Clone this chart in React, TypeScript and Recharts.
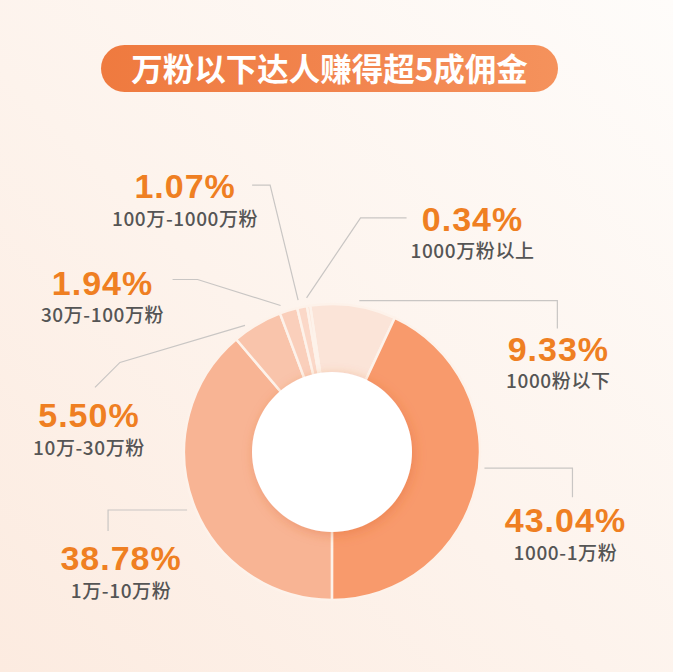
import { Cell, Pie, PieChart } from 'recharts';

const segments = ['1000粉以下', '1000-1万粉', '1万-10万粉', '10万-30万粉', '30万-100万粉', '100万-1000万粉', '1000万粉以上'];
const shares = [9.33, 43.04, 38.78, 5.5, 1.94, 1.07, 0.34];
const sliceColors = ['#fbe4d8', '#f89a6c', '#f8b494', '#f9c4ab', '#facfbb', '#fbd8c8', '#fce0d3'];

const title = '万粉以下达人赚得超5成佣金';

// leader line bends and text spots, relative to the outer point of each slice's middle
const labelLayout = [
  { pts: [[6, -5], [204, -5], [204, 23]], text: [205, 43] },
  { pts: [[8, -16], [96, -16], [96, 13]], text: [89, 36] },
  { pts: [[-6, 7], [-85, 7], [-85, 28]], text: [-72, 55] },
  { pts: [[-12, 1], [-137, 38], [-162, 63]], text: [-168, 91] },
  { pts: [[-8, -5], [-91, -31], [-116, -31]], text: [-186, -28] },
  { pts: [[-4, -7], [-32, -122], [-50, -122]], text: [-117, -121] },
  { pts: [[-2, -8], [52, -88], [98, -88]], text: [164, -87] },
];

const data = segments.map((name, i) => ({ name, value: shares[i] }));
const hub = [{ name: 'hub', value: 1 }];

const RAD = Math.PI / 180;

function renderLabel(props: any) {
  const { cx, cy, midAngle, outerRadius, index, value, name } = props;
  const lay = labelLayout[index];
  if (!lay) return null;
  const ax = cx + outerRadius * Math.cos(-midAngle * RAD);
  const ay = cy + outerRadius * Math.sin(-midAngle * RAD);
  const points = lay.pts.map(([dx, dy]) => `${ax + dx},${ay + dy}`).join(' ');
  const tx = ax + lay.text[0];
  const ty = ay + lay.text[1];
  return (
    <g key={`lbl-${index}`}>
      <polyline points={points} fill="none" stroke="#c9c6c4" strokeWidth={1.2} />
      <text
        x={tx}
        y={ty}
        textAnchor="middle"
        dominantBaseline="central"
        fill="#ef7f22"
        fontSize={34}
        fontWeight={700}
        letterSpacing={1}
        fontFamily="'Liberation Sans', Arial, sans-serif"
      >
        {Number(value).toFixed(2)}%
      </text>
      <text
        x={tx}
        y={ty + 31}
        textAnchor="middle"
        dominantBaseline="central"
        fill="#555"
        fontSize={19}
        fontWeight={500}
        letterSpacing={0.6}
        fontFamily="'Noto Sans CJK SC', 'Noto Sans', sans-serif"
      >
        {name}
      </text>
    </g>
  );
}

export default function App() {
  return (
    <div
      style={{
        position: 'fixed',
        left: 0,
        top: 0,
        width: 673,
        height: 672,
        overflow: 'hidden',
        background: 'linear-gradient(to top right, #fcebe0 0%, #fdf3ec 45%, #fefcfa 100%)',
      }}
    >
      <div
        style={{
          position: 'absolute',
          left: 101,
          top: 45,
          width: 457,
          height: 47,
          borderRadius: 24,
          background: 'linear-gradient(90deg, #ef7a3f 0%, #f28650 60%, #f5925c 100%)',
          color: '#fff',
          fontFamily: "'Noto Sans CJK SC', sans-serif",
          fontWeight: 700,
          fontSize: 31.5,
          lineHeight: '45px',
          textAlign: 'center',
        }}
      >
        {title}
      </div>
      <div style={{ position: 'absolute', left: 0, top: 0 }}>
        <PieChart width={673} height={672}>
          <defs>
            <filter id="hubShadow" x="-30%" y="-30%" width="160%" height="160%">
              <feDropShadow dx={2} dy={3} stdDeviation={6} floodColor="#d9622a" floodOpacity={0.35} />
            </filter>
          </defs>
          <Pie
            data={data}
            dataKey="value"
            nameKey="name"
            cx={327}
            cy={447}
            innerRadius={78}
            outerRadius={148}
            startAngle={98.5}
            endAngle={-261.5}
            stroke="#fdf2ea"
            strokeWidth={2.5}
            label={renderLabel}
            labelLine={false}
            isAnimationActive={false}
          >
            {data.map((d, i) => (
              <Cell key={d.name} fill={sliceColors[i]} />
            ))}
          </Pie>
          <Pie
            data={hub}
            dataKey="value"
            cx={327}
            cy={447}
            innerRadius={0}
            outerRadius={80}
            stroke="none"
            isAnimationActive={false}
          >
            <Cell fill="#ffffff" filter="url(#hubShadow)" />
          </Pie>
        </PieChart>
      </div>
    </div>
  );
}
